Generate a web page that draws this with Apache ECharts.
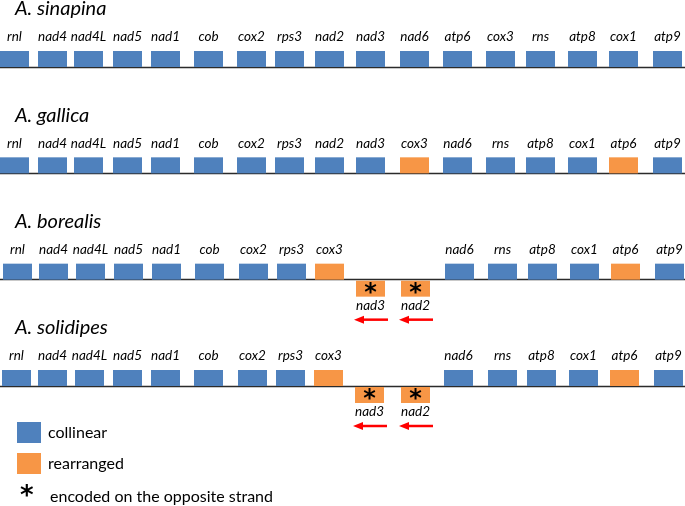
<!DOCTYPE html>
<html><head><meta charset="utf-8">
<script src="https://cdn.jsdelivr.net/npm/echarts@6/dist/echarts.min.js"></script>
<style>html,body{margin:0;padding:0;background:#fff}#c{width:685px;height:506px}</style>
</head><body><div id="c"></div>
<script>
// ---- data ----
const species = ['A. sinapina', 'A. gallica', 'A. borealis', 'A. solidipes'];

const genesSinapina = ['rnl','nad4','nad4L','nad5','nad1','cob','cox2','rps3','nad2','nad3','nad6','atp6','cox3','rns','atp8','cox1','atp9'];
const startsSinapina = [0,38,74,113,151,194,237,275,315,356,400,443,486,526,568,609,653];
const rearrangedSinapina = [];
const oppositeSinapina = [];

const genesGallica = ['rnl','nad4','nad4L','nad5','nad1','cob','cox2','rps3','nad2','nad3','cox3','nad6','rns','atp8','cox1','atp6','atp9'];
const startsGallica = [0,38,74,113,151,194,237,275,315,356,400,443,486,526,568,609,653];
const rearrangedGallica = ['cox3','atp6'];
const oppositeGallica = [];

const genesBorealis = ['rnl','nad4','nad4L','nad5','nad1','cob','cox2','rps3','cox3','nad3','nad2','nad6','rns','atp8','cox1','atp6','atp9'];
const startsBorealis = [3,39,76,114,152,195,239,277,315,356,401,445,488,528,570,611,655];
const rearrangedBorealis = ['cox3','nad3','nad2','atp6'];
const oppositeBorealis = ['nad3','nad2'];

const genesSolidipes = ['rnl','nad4','nad4L','nad5','nad1','cob','cox2','rps3','cox3','nad3','nad2','nad6','rns','atp8','cox1','atp6','atp9'];
const startsSolidipes = [2,38,75,113,151,194,238,276,314,355,401,444,488,527,569,610,654];
const rearrangedSolidipes = ['cox3','nad3','nad2','atp6'];
const oppositeSolidipes = ['nad3','nad2'];

const legendLabels = ['collinear', 'rearranged', 'encoded on the opposite strand'];

// ---- build ----
const rows = [
  [genesSinapina, startsSinapina, rearrangedSinapina, oppositeSinapina],
  [genesGallica, startsGallica, rearrangedGallica, oppositeGallica],
  [genesBorealis, startsBorealis, rearrangedBorealis, oppositeBorealis],
  [genesSolidipes, startsSolidipes, rearrangedSolidipes, oppositeSolidipes]
];
const BLUE = '#4F81BD', ORANGE = '#F79646';
const GENE_W = 29;
const FONT = 'Lato, "Open Sans", sans-serif';
const colItems = [], reaItems = [];
rows.forEach((r, ri) => {
  const [g, s, rea, opp] = r;
  g.forEach((name, i) => {
    const item = { name: name, value: [s[i], ri, opp.includes(name) ? 1 : 0] };
    (rea.includes(name) ? reaItems : colItems).push(item);
  });
});

function makeRender(items, color) {
  return function (params, api) {
    const it = items[params.dataIndex];
    const x0 = api.value(0), row = api.value(1), opp = api.value(2);
    const p0 = api.coord([x0, row]);
    const p1 = api.coord([x0 + GENE_W, row]);
    const w = p1[0] - p0[0], base = p0[1], cx = p0[0] + w / 2;
    const children = [];
    if (!opp) {
      children.push({ type: 'rect', shape: { x: p0[0], y: base - 16, width: w, height: 16 }, style: { fill: color } });
      children.push({ type: 'text', style: { x: cx, y: base - 30, text: it.name, fill: '#000', font: 'italic 13.5px ' + FONT, align: 'center', verticalAlign: 'middle' } });
    } else {
      children.push({ type: 'rect', shape: { x: p0[0], y: base + 1, width: w, height: 16 }, style: { fill: color } });
      children.push({ type: 'text', style: { x: cx, y: base + 14, text: '*', fill: '#000', font: 'bold 24px "DejaVu Sans"', align: 'center', verticalAlign: 'middle' } });
      children.push({ type: 'text', style: { x: cx, y: base + 26, text: it.name, fill: '#000', font: 'italic 13.5px ' + FONT, align: 'center', verticalAlign: 'middle' } });
      const ay = base + 40;
      children.push({ type: 'line', shape: { x1: p0[0] + 6, y1: ay, x2: p1[0] + 3, y2: ay }, style: { stroke: '#FF0000', lineWidth: 2.5 } });
      children.push({ type: 'polygon', shape: { points: [[p0[0] - 2, ay], [p0[0] + 8, ay - 4], [p0[0] + 8, ay + 4]] }, style: { fill: '#FF0000' } });
    }
    return { type: 'group', children: children };
  };
}

const titleData = species.map((s, i) => ({ name: s, value: [15, i] }));

const chart = echarts.init(document.getElementById('c'), null, { renderer: 'canvas' });
chart.setOption({
  animation: false,
  backgroundColor: '#fff',
  grid: { left: 0, right: 0, top: 67, bottom: 120, containLabel: false },
  xAxis: { type: 'value', min: 0, max: 685, show: false },
  yAxis: {
    type: 'value', min: 0, max: 3, interval: 1, inverse: true,
    axisLine: { show: false }, axisTick: { show: false }, axisLabel: { show: false },
    splitLine: { show: true, showMinLine: true, showMaxLine: true, lineStyle: { color: '#2b2b2b', width: 1.3 } }
  },
  legend: {
    orient: 'vertical', left: 17, top: 422, padding: 0, itemWidth: 24, itemHeight: 21, itemGap: 10,
    icon: 'rect', selectedMode: false,
    textStyle: { fontSize: 16, color: '#000', fontFamily: FONT, padding: [0, 0, 0, 2] },
    data: [legendLabels[0], legendLabels[1]]
  },
  series: [
    { type: 'custom', name: legendLabels[0], itemStyle: { color: BLUE }, data: colItems, renderItem: makeRender(colItems, BLUE), clip: false },
    { type: 'custom', name: legendLabels[1], itemStyle: { color: ORANGE }, data: reaItems, renderItem: makeRender(reaItems, ORANGE), clip: false },
    { type: 'custom', name: 'titles', data: titleData, clip: false,
      renderItem: function (params, api) {
        const p = api.coord([api.value(0), api.value(1)]);
        return { type: 'text', style: { x: p[0], y: p[1] - 58, text: titleData[params.dataIndex].name, fill: '#000', font: 'italic 20px ' + FONT, verticalAlign: 'middle' } };
      } }
  ],
  graphic: [
    { type: 'text', left: 20, top: 484, style: { text: '*', fill: '#000', font: 'bold 26px "DejaVu Sans"' } },
    { type: 'text', left: 50, top: 489, style: { text: legendLabels[2], fill: '#000', font: '16px ' + FONT } }
  ]
});
</script></body></html>
